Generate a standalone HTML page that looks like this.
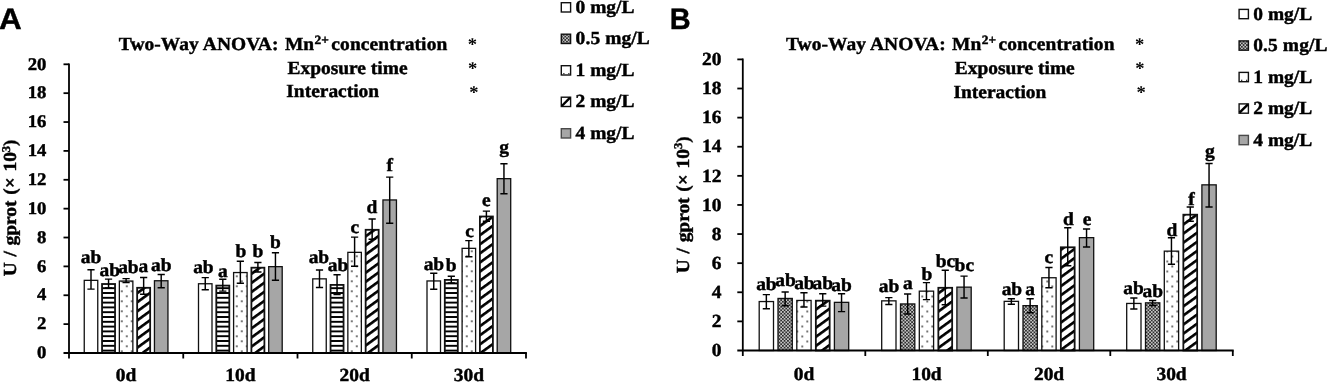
<!DOCTYPE html>
<html><head><meta charset="utf-8"><title>Figure</title>
<style>
html,body{margin:0;padding:0;background:#fff;}
body{width:1327px;height:383px;overflow:hidden;}
svg{display:block;will-change:transform;text-rendering:geometricPrecision;}
.s{font-family:"Liberation Serif",serif;font-weight:bold;fill:#000;stroke:#000;stroke-width:0.45px;}
.h{font-family:"Liberation Sans",sans-serif;font-weight:bold;fill:#000;}
</style></head><body>
<svg width="1327" height="383" viewBox="0 0 1327 383">
<rect x="0" y="0" width="1327" height="383" fill="#fff"/>
<defs>
<pattern id="hstripe" patternUnits="userSpaceOnUse" x="0" y="0.2" width="10" height="4.8" shape-rendering="crispEdges"><rect width="10" height="4.8" fill="#000"/><rect y="1.4" width="10" height="2.0" fill="#fff"/></pattern>
<pattern id="dotsA" patternUnits="userSpaceOnUse" x="0.75" y="0.25" width="10.00" height="10.00"><rect width="10.00" height="10.00" fill="#fff"/><rect x="0.3" y="0.3" width="1.5" height="1.5" fill="#111"/><rect x="5.30" y="5.30" width="1.5" height="1.5" fill="#111"/></pattern>
<pattern id="diagA" patternUnits="userSpaceOnUse" width="7.36" height="7.36" patternTransform="rotate(-36)"><rect width="7.36" height="7.36" fill="#fff"/><rect y="0" width="7.36" height="2.65" fill="#000"/></pattern>
<pattern id="dotsB" patternUnits="userSpaceOnUse" x="1.25" y="5.45" width="10.00" height="10.00"><rect width="10.00" height="10.00" fill="#fff"/><rect x="0.3" y="0.3" width="1.5" height="1.5" fill="#111"/><rect x="5.30" y="5.30" width="1.5" height="1.5" fill="#111"/></pattern>
<pattern id="diagB" patternUnits="userSpaceOnUse" width="7.36" height="7.36" patternTransform="rotate(-36)"><rect width="7.36" height="7.36" fill="#fff"/><rect y="0" width="7.36" height="2.65" fill="#000"/></pattern>
<pattern id="checker" patternUnits="userSpaceOnUse" width="3.4" height="3.4"><rect width="3.4" height="3.4" fill="#2e2e2e"/><rect x="0.1" y="0.1" width="1.55" height="1.55" fill="#e4e4e4"/><rect x="1.8" y="1.8" width="1.55" height="1.55" fill="#e4e4e4"/></pattern>
</defs>
<rect x="84.25" y="280.35" width="13.50" height="72.65" fill="#fff" stroke="#111" stroke-width="1.3"/>
<path d="M91.00 269.60V289.20M87.40 269.70H94.60M87.40 289.10H94.60" stroke="#000" stroke-width="1.45" fill="none"/>
<text class="s" transform="translate(91.00 263.30) scale(1 0.95)" font-size="19.45" text-anchor="middle">ab</text>
<rect x="102.05" y="284.00" width="13.00" height="69.00" fill="url(#hstripe)" stroke="#111" stroke-width="1.8"/>
<path d="M108.55 279.00V288.00M104.95 279.10H112.15M104.95 287.90H112.15" stroke="#000" stroke-width="1.45" fill="none"/>
<text class="s" transform="translate(109.80 276.30) scale(1 0.95)" font-size="19.45" text-anchor="middle">ab</text>
<rect x="119.35" y="281.05" width="13.50" height="71.95" fill="url(#dotsA)" stroke="#111" stroke-width="1.3"/>
<path d="M126.10 278.50V282.60M122.50 278.60H129.70M122.50 282.50H129.70" stroke="#000" stroke-width="1.45" fill="none"/>
<text class="s" transform="translate(128.40 273.30) scale(1 0.95)" font-size="19.45" text-anchor="middle">ab</text>
<rect x="137.15" y="287.80" width="13.00" height="65.20" fill="url(#diagA)" stroke="#111" stroke-width="1.8"/>
<path d="M143.65 277.40V294.40M140.05 277.50H147.25M140.05 294.30H147.25" stroke="#000" stroke-width="1.45" fill="none"/>
<text class="s" transform="translate(143.40 272.30) scale(1 0.95)" font-size="19.45" text-anchor="middle">a</text>
<rect x="154.45" y="280.75" width="13.50" height="72.25" fill="#a6a6a6" stroke="#111" stroke-width="1.3"/>
<path d="M161.20 274.40V287.90M157.60 274.50H164.80M157.60 287.80H164.80" stroke="#000" stroke-width="1.45" fill="none"/>
<text class="s" transform="translate(161.20 270.60) scale(1 0.95)" font-size="19.45" text-anchor="middle">ab</text>
<rect x="198.50" y="283.75" width="13.50" height="69.25" fill="#fff" stroke="#111" stroke-width="1.3"/>
<path d="M205.25 277.50V289.80M201.65 277.60H208.85M201.65 289.70H208.85" stroke="#000" stroke-width="1.45" fill="none"/>
<text class="s" transform="translate(203.40 273.10) scale(1 0.95)" font-size="19.45" text-anchor="middle">ab</text>
<rect x="216.30" y="285.60" width="13.00" height="67.40" fill="url(#hstripe)" stroke="#111" stroke-width="1.8"/>
<path d="M222.80 279.10V291.20M219.20 279.20H226.40M219.20 291.10H226.40" stroke="#000" stroke-width="1.45" fill="none"/>
<text class="s" transform="translate(222.90 276.90) scale(1 0.95)" font-size="19.45" text-anchor="middle">a</text>
<rect x="233.60" y="272.55" width="13.50" height="80.45" fill="url(#dotsA)" stroke="#111" stroke-width="1.3"/>
<path d="M240.35 261.10V283.30M236.75 261.20H243.95M236.75 283.20H243.95" stroke="#000" stroke-width="1.45" fill="none"/>
<text class="s" transform="translate(240.80 257.20) scale(1 0.95)" font-size="19.45" text-anchor="middle">b</text>
<rect x="251.40" y="267.70" width="13.00" height="85.30" fill="url(#diagA)" stroke="#111" stroke-width="1.8"/>
<path d="M257.90 262.40V272.00M254.30 262.50H261.50M254.30 271.90H261.50" stroke="#000" stroke-width="1.45" fill="none"/>
<text class="s" transform="translate(257.80 257.20) scale(1 0.95)" font-size="19.45" text-anchor="middle">b</text>
<rect x="268.70" y="266.65" width="13.50" height="86.35" fill="#a6a6a6" stroke="#111" stroke-width="1.3"/>
<path d="M275.45 252.70V280.30M271.85 252.80H279.05M271.85 280.20H279.05" stroke="#000" stroke-width="1.45" fill="none"/>
<text class="s" transform="translate(275.30 248.30) scale(1 0.95)" font-size="19.45" text-anchor="middle">b</text>
<rect x="312.75" y="278.85" width="13.50" height="74.15" fill="#fff" stroke="#111" stroke-width="1.3"/>
<path d="M319.50 269.90V287.50M315.90 270.00H323.10M315.90 287.40H323.10" stroke="#000" stroke-width="1.45" fill="none"/>
<text class="s" transform="translate(318.90 263.10) scale(1 0.95)" font-size="19.45" text-anchor="middle">ab</text>
<rect x="330.55" y="284.90" width="13.00" height="68.10" fill="url(#hstripe)" stroke="#111" stroke-width="1.8"/>
<path d="M337.05 274.60V294.50M333.45 274.70H340.65M333.45 294.40H340.65" stroke="#000" stroke-width="1.45" fill="none"/>
<text class="s" transform="translate(338.00 270.90) scale(1 0.95)" font-size="19.45" text-anchor="middle">ab</text>
<rect x="347.85" y="252.35" width="13.50" height="100.65" fill="url(#dotsA)" stroke="#111" stroke-width="1.3"/>
<path d="M354.60 237.00V266.30M351.00 237.10H358.20M351.00 266.20H358.20" stroke="#000" stroke-width="1.45" fill="none"/>
<text class="s" transform="translate(354.70 232.60) scale(1 0.95)" font-size="19.45" text-anchor="middle">c</text>
<rect x="365.65" y="229.80" width="13.00" height="123.20" fill="url(#diagA)" stroke="#111" stroke-width="1.8"/>
<path d="M372.15 218.90V239.30M368.55 219.00H375.75M368.55 239.20H375.75" stroke="#000" stroke-width="1.45" fill="none"/>
<text class="s" transform="translate(372.00 212.80) scale(1 0.95)" font-size="19.45" text-anchor="middle">d</text>
<rect x="382.95" y="199.95" width="13.50" height="153.05" fill="#a6a6a6" stroke="#111" stroke-width="1.3"/>
<path d="M389.70 177.00V223.40M386.10 177.10H393.30M386.10 223.30H393.30" stroke="#000" stroke-width="1.45" fill="none"/>
<text class="s" transform="translate(389.70 170.90) scale(1 0.95)" font-size="19.45" text-anchor="middle">f</text>
<rect x="427.00" y="280.95" width="13.50" height="72.05" fill="#fff" stroke="#111" stroke-width="1.3"/>
<path d="M433.75 273.10V289.30M430.15 273.20H437.35M430.15 289.20H437.35" stroke="#000" stroke-width="1.45" fill="none"/>
<text class="s" transform="translate(433.90 270.30) scale(1 0.95)" font-size="19.45" text-anchor="middle">ab</text>
<rect x="444.80" y="279.90" width="13.00" height="73.10" fill="url(#hstripe)" stroke="#111" stroke-width="1.8"/>
<path d="M451.30 276.20V283.00M447.70 276.30H454.90M447.70 282.90H454.90" stroke="#000" stroke-width="1.45" fill="none"/>
<text class="s" transform="translate(451.20 270.80) scale(1 0.95)" font-size="19.45" text-anchor="middle">b</text>
<rect x="462.10" y="248.35" width="13.50" height="104.65" fill="url(#dotsA)" stroke="#111" stroke-width="1.3"/>
<path d="M468.85 240.50V256.90M465.25 240.60H472.45M465.25 256.80H472.45" stroke="#000" stroke-width="1.45" fill="none"/>
<text class="s" transform="translate(469.50 236.90) scale(1 0.95)" font-size="19.45" text-anchor="middle">c</text>
<rect x="479.90" y="216.50" width="13.00" height="136.50" fill="url(#diagA)" stroke="#111" stroke-width="1.8"/>
<path d="M486.40 211.00V221.40M482.80 211.10H490.00M482.80 221.30H490.00" stroke="#000" stroke-width="1.45" fill="none"/>
<text class="s" transform="translate(486.30 206.30) scale(1 0.95)" font-size="19.45" text-anchor="middle">e</text>
<rect x="497.20" y="178.65" width="13.50" height="174.35" fill="#a6a6a6" stroke="#111" stroke-width="1.3"/>
<path d="M503.95 163.60V193.80M500.35 163.70H507.55M500.35 193.70H507.55" stroke="#000" stroke-width="1.45" fill="none"/>
<text class="s" transform="translate(504.20 152.60) scale(1 0.95)" font-size="19.45" text-anchor="middle">g</text>
<path d="M69.00 63.40V358.50" stroke="#000" stroke-width="1.8" fill="none"/>
<path d="M63.50 353.00H526.90" stroke="#000" stroke-width="1.8" fill="none"/>
<text class="s" transform="translate(46.40 358.20) scale(1 0.95)" font-size="18.70" text-anchor="end">0</text>
<path d="M63.50 324.13H69.00" stroke="#000" stroke-width="1.8"/>
<text class="s" transform="translate(46.40 329.33) scale(1 0.95)" font-size="18.70" text-anchor="end">2</text>
<path d="M63.50 295.26H69.00" stroke="#000" stroke-width="1.8"/>
<text class="s" transform="translate(46.40 300.46) scale(1 0.95)" font-size="18.70" text-anchor="end">4</text>
<path d="M63.50 266.39H69.00" stroke="#000" stroke-width="1.8"/>
<text class="s" transform="translate(46.40 271.59) scale(1 0.95)" font-size="18.70" text-anchor="end">6</text>
<path d="M63.50 237.52H69.00" stroke="#000" stroke-width="1.8"/>
<text class="s" transform="translate(46.40 242.72) scale(1 0.95)" font-size="18.70" text-anchor="end">8</text>
<path d="M63.50 208.65H69.00" stroke="#000" stroke-width="1.8"/>
<text class="s" transform="translate(46.40 213.85) scale(1 0.95)" font-size="18.70" text-anchor="end">10</text>
<path d="M63.50 179.78H69.00" stroke="#000" stroke-width="1.8"/>
<text class="s" transform="translate(46.40 184.98) scale(1 0.95)" font-size="18.70" text-anchor="end">12</text>
<path d="M63.50 150.91H69.00" stroke="#000" stroke-width="1.8"/>
<text class="s" transform="translate(46.40 156.11) scale(1 0.95)" font-size="18.70" text-anchor="end">14</text>
<path d="M63.50 122.04H69.00" stroke="#000" stroke-width="1.8"/>
<text class="s" transform="translate(46.40 127.24) scale(1 0.95)" font-size="18.70" text-anchor="end">16</text>
<path d="M63.50 93.17H69.00" stroke="#000" stroke-width="1.8"/>
<text class="s" transform="translate(46.40 98.37) scale(1 0.95)" font-size="18.70" text-anchor="end">18</text>
<path d="M63.50 64.30H69.00" stroke="#000" stroke-width="1.8"/>
<text class="s" transform="translate(46.40 69.50) scale(1 0.95)" font-size="18.70" text-anchor="end">20</text>
<path d="M183.25 353.00V358.50" stroke="#000" stroke-width="1.8"/>
<path d="M297.50 353.00V358.50" stroke="#000" stroke-width="1.8"/>
<path d="M411.75 353.00V358.50" stroke="#000" stroke-width="1.8"/>
<path d="M526.00 353.00V358.50" stroke="#000" stroke-width="1.8"/>
<text class="s" transform="translate(126.12 381.20) scale(1 0.95)" font-size="19.45" text-anchor="middle">0d</text>
<text class="s" transform="translate(240.38 381.20) scale(1 0.95)" font-size="19.45" text-anchor="middle">10d</text>
<text class="s" transform="translate(354.62 381.20) scale(1 0.95)" font-size="19.45" text-anchor="middle">20d</text>
<text class="s" transform="translate(468.88 381.20) scale(1 0.95)" font-size="19.45" text-anchor="middle">30d</text>
<rect x="759.20" y="301.55" width="14.30" height="48.95" fill="#fff" stroke="#111" stroke-width="1.3"/>
<path d="M766.35 294.50V308.90M762.75 294.60H769.95M762.75 308.80H769.95" stroke="#000" stroke-width="1.45" fill="none"/>
<text class="s" transform="translate(766.40 290.20) scale(1 0.95)" font-size="19.45" text-anchor="middle">ab</text>
<rect x="778.00" y="298.45" width="14.30" height="52.05" fill="url(#checker)" stroke="#111" stroke-width="1.3"/>
<path d="M785.15 291.80V305.80M781.55 291.90H788.75M781.55 305.70H788.75" stroke="#000" stroke-width="1.45" fill="none"/>
<text class="s" transform="translate(785.60 286.30) scale(1 0.95)" font-size="19.45" text-anchor="middle">ab</text>
<rect x="796.80" y="300.45" width="14.30" height="50.05" fill="url(#dotsB)" stroke="#111" stroke-width="1.3"/>
<path d="M803.95 292.60V307.00M800.35 292.70H807.55M800.35 306.90H807.55" stroke="#000" stroke-width="1.45" fill="none"/>
<text class="s" transform="translate(804.40 288.60) scale(1 0.95)" font-size="19.45" text-anchor="middle">ab</text>
<rect x="815.85" y="300.70" width="13.80" height="49.80" fill="url(#diagB)" stroke="#111" stroke-width="1.8"/>
<path d="M822.75 293.70V306.20M819.15 293.80H826.35M819.15 306.10H826.35" stroke="#000" stroke-width="1.45" fill="none"/>
<text class="s" transform="translate(822.80 289.40) scale(1 0.95)" font-size="19.45" text-anchor="middle">ab</text>
<rect x="834.40" y="302.35" width="14.30" height="48.15" fill="#a6a6a6" stroke="#111" stroke-width="1.3"/>
<path d="M841.55 293.70V311.70M837.95 293.80H845.15M837.95 311.60H845.15" stroke="#000" stroke-width="1.45" fill="none"/>
<text class="s" transform="translate(841.60 291.00) scale(1 0.95)" font-size="19.45" text-anchor="middle">ab</text>
<rect x="881.70" y="300.85" width="14.30" height="49.65" fill="#fff" stroke="#111" stroke-width="1.3"/>
<path d="M888.85 297.50V304.50M885.25 297.60H892.45M885.25 304.40H892.45" stroke="#000" stroke-width="1.45" fill="none"/>
<text class="s" transform="translate(889.10 292.10) scale(1 0.95)" font-size="19.45" text-anchor="middle">ab</text>
<rect x="900.50" y="303.95" width="14.30" height="46.55" fill="url(#checker)" stroke="#111" stroke-width="1.3"/>
<path d="M907.65 293.90V314.00M904.05 294.00H911.25M904.05 313.90H911.25" stroke="#000" stroke-width="1.45" fill="none"/>
<text class="s" transform="translate(907.90 289.30) scale(1 0.95)" font-size="19.45" text-anchor="middle">a</text>
<rect x="919.30" y="291.15" width="14.30" height="59.35" fill="url(#dotsB)" stroke="#111" stroke-width="1.3"/>
<path d="M926.45 282.50V299.70M922.85 282.60H930.05M922.85 299.60H930.05" stroke="#000" stroke-width="1.45" fill="none"/>
<text class="s" transform="translate(926.80 279.70) scale(1 0.95)" font-size="19.45" text-anchor="middle">b</text>
<rect x="938.35" y="287.80" width="13.80" height="62.70" fill="url(#diagB)" stroke="#111" stroke-width="1.8"/>
<path d="M945.25 270.10V304.80M941.65 270.20H948.85M941.65 304.70H948.85" stroke="#000" stroke-width="1.45" fill="none"/>
<text class="s" transform="translate(945.50 267.20) scale(1 0.95)" font-size="19.45" text-anchor="middle">bc</text>
<rect x="956.90" y="287.15" width="14.30" height="63.35" fill="#a6a6a6" stroke="#111" stroke-width="1.3"/>
<path d="M964.05 276.00V298.10M960.45 276.10H967.65M960.45 298.00H967.65" stroke="#000" stroke-width="1.45" fill="none"/>
<text class="s" transform="translate(964.30 270.50) scale(1 0.95)" font-size="19.45" text-anchor="middle">bc</text>
<rect x="1004.20" y="301.35" width="14.30" height="49.15" fill="#fff" stroke="#111" stroke-width="1.3"/>
<path d="M1011.35 298.70V304.40M1007.75 298.80H1014.95M1007.75 304.30H1014.95" stroke="#000" stroke-width="1.45" fill="none"/>
<text class="s" transform="translate(1011.90 295.10) scale(1 0.95)" font-size="19.45" text-anchor="middle">ab</text>
<rect x="1023.00" y="305.65" width="14.30" height="44.85" fill="url(#checker)" stroke="#111" stroke-width="1.3"/>
<path d="M1030.15 298.70V312.90M1026.55 298.80H1033.75M1026.55 312.80H1033.75" stroke="#000" stroke-width="1.45" fill="none"/>
<text class="s" transform="translate(1030.00 295.10) scale(1 0.95)" font-size="19.45" text-anchor="middle">a</text>
<rect x="1041.80" y="277.75" width="14.30" height="72.75" fill="url(#dotsB)" stroke="#111" stroke-width="1.3"/>
<path d="M1048.95 267.40V287.80M1045.35 267.50H1052.55M1045.35 287.70H1052.55" stroke="#000" stroke-width="1.45" fill="none"/>
<text class="s" transform="translate(1048.80 262.50) scale(1 0.95)" font-size="19.45" text-anchor="middle">c</text>
<rect x="1060.85" y="247.30" width="13.80" height="103.20" fill="url(#diagB)" stroke="#111" stroke-width="1.8"/>
<path d="M1067.75 227.60V265.80M1064.15 227.70H1071.35M1064.15 265.70H1071.35" stroke="#000" stroke-width="1.45" fill="none"/>
<text class="s" transform="translate(1068.40 224.90) scale(1 0.95)" font-size="19.45" text-anchor="middle">d</text>
<rect x="1079.40" y="237.65" width="14.30" height="112.85" fill="#a6a6a6" stroke="#111" stroke-width="1.3"/>
<path d="M1086.55 228.80V247.00M1082.95 228.90H1090.15M1082.95 246.90H1090.15" stroke="#000" stroke-width="1.45" fill="none"/>
<text class="s" transform="translate(1087.10 224.90) scale(1 0.95)" font-size="19.45" text-anchor="middle">e</text>
<rect x="1126.70" y="303.45" width="14.30" height="47.05" fill="#fff" stroke="#111" stroke-width="1.3"/>
<path d="M1133.85 297.80V309.10M1130.25 297.90H1137.45M1130.25 309.00H1137.45" stroke="#000" stroke-width="1.45" fill="none"/>
<text class="s" transform="translate(1133.50 293.80) scale(1 0.95)" font-size="19.45" text-anchor="middle">ab</text>
<rect x="1145.50" y="302.85" width="14.30" height="47.65" fill="url(#checker)" stroke="#111" stroke-width="1.3"/>
<path d="M1152.65 300.30V305.60M1149.05 300.40H1156.25M1149.05 305.50H1156.25" stroke="#000" stroke-width="1.45" fill="none"/>
<text class="s" transform="translate(1152.80 297.00) scale(1 0.95)" font-size="19.45" text-anchor="middle">ab</text>
<rect x="1164.30" y="251.15" width="14.30" height="99.35" fill="url(#dotsB)" stroke="#111" stroke-width="1.3"/>
<path d="M1171.45 237.60V264.30M1167.85 237.70H1175.05M1167.85 264.20H1175.05" stroke="#000" stroke-width="1.45" fill="none"/>
<text class="s" transform="translate(1172.00 236.40) scale(1 0.95)" font-size="19.45" text-anchor="middle">d</text>
<rect x="1183.35" y="214.70" width="13.80" height="135.80" fill="url(#diagB)" stroke="#111" stroke-width="1.8"/>
<path d="M1190.25 206.90V221.30M1186.65 207.00H1193.85M1186.65 221.20H1193.85" stroke="#000" stroke-width="1.45" fill="none"/>
<text class="s" transform="translate(1191.60 204.80) scale(1 0.95)" font-size="19.45" text-anchor="middle">f</text>
<rect x="1201.90" y="184.85" width="14.30" height="165.65" fill="#a6a6a6" stroke="#111" stroke-width="1.3"/>
<path d="M1209.05 163.40V207.00M1205.45 163.50H1212.65M1205.45 206.90H1212.65" stroke="#000" stroke-width="1.45" fill="none"/>
<text class="s" transform="translate(1209.80 156.50) scale(1 0.95)" font-size="19.45" text-anchor="middle">g</text>
<path d="M742.80 58.50V356.00" stroke="#000" stroke-width="1.8" fill="none"/>
<path d="M737.30 350.50H1233.70" stroke="#000" stroke-width="1.8" fill="none"/>
<text class="s" transform="translate(721.40 356.20) scale(1 0.95)" font-size="19.45" text-anchor="end">0</text>
<path d="M737.30 321.39H742.80" stroke="#000" stroke-width="1.8"/>
<text class="s" transform="translate(721.40 327.09) scale(1 0.95)" font-size="19.45" text-anchor="end">2</text>
<path d="M737.30 292.28H742.80" stroke="#000" stroke-width="1.8"/>
<text class="s" transform="translate(721.40 297.98) scale(1 0.95)" font-size="19.45" text-anchor="end">4</text>
<path d="M737.30 263.17H742.80" stroke="#000" stroke-width="1.8"/>
<text class="s" transform="translate(721.40 268.87) scale(1 0.95)" font-size="19.45" text-anchor="end">6</text>
<path d="M737.30 234.06H742.80" stroke="#000" stroke-width="1.8"/>
<text class="s" transform="translate(721.40 239.76) scale(1 0.95)" font-size="19.45" text-anchor="end">8</text>
<path d="M737.30 204.95H742.80" stroke="#000" stroke-width="1.8"/>
<text class="s" transform="translate(721.40 210.65) scale(1 0.95)" font-size="19.45" text-anchor="end">10</text>
<path d="M737.30 175.84H742.80" stroke="#000" stroke-width="1.8"/>
<text class="s" transform="translate(721.40 181.54) scale(1 0.95)" font-size="19.45" text-anchor="end">12</text>
<path d="M737.30 146.73H742.80" stroke="#000" stroke-width="1.8"/>
<text class="s" transform="translate(721.40 152.43) scale(1 0.95)" font-size="19.45" text-anchor="end">14</text>
<path d="M737.30 117.62H742.80" stroke="#000" stroke-width="1.8"/>
<text class="s" transform="translate(721.40 123.32) scale(1 0.95)" font-size="19.45" text-anchor="end">16</text>
<path d="M737.30 88.51H742.80" stroke="#000" stroke-width="1.8"/>
<text class="s" transform="translate(721.40 94.21) scale(1 0.95)" font-size="19.45" text-anchor="end">18</text>
<path d="M737.30 59.40H742.80" stroke="#000" stroke-width="1.8"/>
<text class="s" transform="translate(721.40 65.10) scale(1 0.95)" font-size="19.45" text-anchor="end">20</text>
<path d="M865.30 350.50V356.00" stroke="#000" stroke-width="1.8"/>
<path d="M987.80 350.50V356.00" stroke="#000" stroke-width="1.8"/>
<path d="M1110.30 350.50V356.00" stroke="#000" stroke-width="1.8"/>
<path d="M1232.80 350.50V356.00" stroke="#000" stroke-width="1.8"/>
<text class="s" transform="translate(804.05 379.50) scale(1 0.95)" font-size="19.45" text-anchor="middle">0d</text>
<text class="s" transform="translate(926.55 379.50) scale(1 0.95)" font-size="19.45" text-anchor="middle">10d</text>
<text class="s" transform="translate(1049.05 379.50) scale(1 0.95)" font-size="19.45" text-anchor="middle">20d</text>
<text class="s" transform="translate(1171.55 379.50) scale(1 0.95)" font-size="19.45" text-anchor="middle">30d</text>
<text class="h" transform="translate(-0.9 28.8) scale(1.06 1)" font-size="29.7" stroke="#000" stroke-width="0.4">A</text>
<text class="h" transform="translate(669.7 28.8) scale(0.975 1)" font-size="29.7" stroke="#000" stroke-width="0.4">B</text>
<text class="s" transform="translate(118.80 50.20) scale(1 0.95)" font-size="19.45" letter-spacing="0.08">Two-Way ANOVA:</text>
<text class="s" transform="translate(284.90 50.20) scale(1 0.95)" font-size="19.45">Mn</text>
<text class="s" transform="translate(314.50 43.60) scale(1 0.95)" font-size="13.40">2+</text>
<text class="s" transform="translate(331.30 50.20) scale(1 0.95)" font-size="19.45" textLength="116" lengthAdjust="spacing">concentration</text>
<text class="s" transform="translate(287.50 73.90) scale(1 0.95)" font-size="19.45">Exposure time</text>
<text class="s" transform="translate(286.30 97.40) scale(1 0.95)" font-size="19.45">Interaction</text>
<text class="s" transform="translate(467.70 50.10) scale(1 0.95)" font-size="18.60" style="stroke:none">*</text>
<text class="s" transform="translate(468.00 73.60) scale(1 0.95)" font-size="18.60" style="stroke:none">*</text>
<text class="s" transform="translate(469.20 97.60) scale(1 0.95)" font-size="18.60" style="stroke:none">*</text>
<text class="s" transform="translate(786.00 50.40) scale(1 0.95)" font-size="19.45" letter-spacing="0.08">Two-Way ANOVA:</text>
<text class="s" transform="translate(952.10 50.40) scale(1 0.95)" font-size="19.45">Mn</text>
<text class="s" transform="translate(981.70 43.80) scale(1 0.95)" font-size="13.40">2+</text>
<text class="s" transform="translate(998.50 50.40) scale(1 0.95)" font-size="19.45" textLength="116" lengthAdjust="spacing">concentration</text>
<text class="s" transform="translate(954.70 74.10) scale(1 0.95)" font-size="19.45">Exposure time</text>
<text class="s" transform="translate(953.50 97.60) scale(1 0.95)" font-size="19.45">Interaction</text>
<text class="s" transform="translate(1134.90 50.30) scale(1 0.95)" font-size="18.60" style="stroke:none">*</text>
<text class="s" transform="translate(1135.20 73.80) scale(1 0.95)" font-size="18.60" style="stroke:none">*</text>
<text class="s" transform="translate(1136.40 97.80) scale(1 0.95)" font-size="18.60" style="stroke:none">*</text>
<text class="s" transform="translate(16.30 207.90) rotate(-90) scale(1 0.95)" font-size="19.40" text-anchor="middle" word-spacing="0.9">U / gprot (× 10<tspan font-size="12.5" dy="-7">3</tspan><tspan dy="7">)</tspan></text>
<text class="s" transform="translate(688.80 204.80) rotate(-90) scale(1 0.95)" font-size="19.40" text-anchor="middle" word-spacing="0.9">U / gprot (× 10<tspan font-size="12.5" dy="-7">3</tspan><tspan dy="7">)</tspan></text>
<rect x="561.30" y="2.70" width="9.30" height="9.30" fill="#fff" stroke="#111" stroke-width="1.4"/>
<text class="s" transform="translate(575.60 12.60) scale(1 0.95)" font-size="19.45">0 mg/L</text>
<rect x="561.30" y="34.20" width="9.30" height="9.30" fill="url(#checker)" stroke="#111" stroke-width="1.4"/>
<text class="s" transform="translate(575.60 44.10) scale(1 0.95)" font-size="19.45" letter-spacing="0.1">0.5 mg/L</text>
<rect x="561.30" y="65.70" width="9.30" height="9.30" fill="#fff" stroke="#111" stroke-width="1.4"/>
<rect x="563.20" y="73.00" width="1.3" height="1.3" fill="#333"/>
<rect x="568.20" y="73.00" width="1.3" height="1.3" fill="#333"/>
<text class="s" transform="translate(575.60 75.60) scale(1 0.95)" font-size="19.45">1 mg/L</text>
<rect x="561.30" y="97.20" width="9.30" height="9.30" fill="#fff" stroke="#111" stroke-width="1.4"/>
<path d="M561.80 106.00L570.10 97.70" stroke="#000" stroke-width="2.4"/>
<text class="s" transform="translate(575.60 107.10) scale(1 0.95)" font-size="19.45">2 mg/L</text>
<rect x="561.30" y="128.70" width="9.30" height="9.30" fill="#a6a6a6" stroke="#4a4a4a" stroke-width="1.4"/>
<text class="s" transform="translate(575.60 138.60) scale(1 0.95)" font-size="19.45">4 mg/L</text>
<rect x="1239.10" y="9.40" width="9.30" height="9.30" fill="#fff" stroke="#111" stroke-width="1.4"/>
<text class="s" transform="translate(1253.30 19.80) scale(1 0.95)" font-size="19.45">0 mg/L</text>
<rect x="1239.10" y="40.90" width="9.30" height="9.30" fill="url(#checker)" stroke="#111" stroke-width="1.4"/>
<text class="s" transform="translate(1253.30 51.30) scale(1 0.95)" font-size="19.45" letter-spacing="0.1">0.5 mg/L</text>
<rect x="1239.10" y="72.40" width="9.30" height="9.30" fill="#fff" stroke="#111" stroke-width="1.4"/>
<rect x="1241.00" y="79.70" width="1.3" height="1.3" fill="#333"/>
<rect x="1246.00" y="79.70" width="1.3" height="1.3" fill="#333"/>
<text class="s" transform="translate(1253.30 82.80) scale(1 0.95)" font-size="19.45">1 mg/L</text>
<rect x="1239.10" y="103.90" width="9.30" height="9.30" fill="#fff" stroke="#111" stroke-width="1.4"/>
<path d="M1239.60 112.70L1247.90 104.40" stroke="#000" stroke-width="2.4"/>
<text class="s" transform="translate(1253.30 114.30) scale(1 0.95)" font-size="19.45">2 mg/L</text>
<rect x="1239.10" y="135.40" width="9.30" height="9.30" fill="#a6a6a6" stroke="#4a4a4a" stroke-width="1.4"/>
<text class="s" transform="translate(1253.30 145.80) scale(1 0.95)" font-size="19.45">4 mg/L</text>
</svg></body></html>
